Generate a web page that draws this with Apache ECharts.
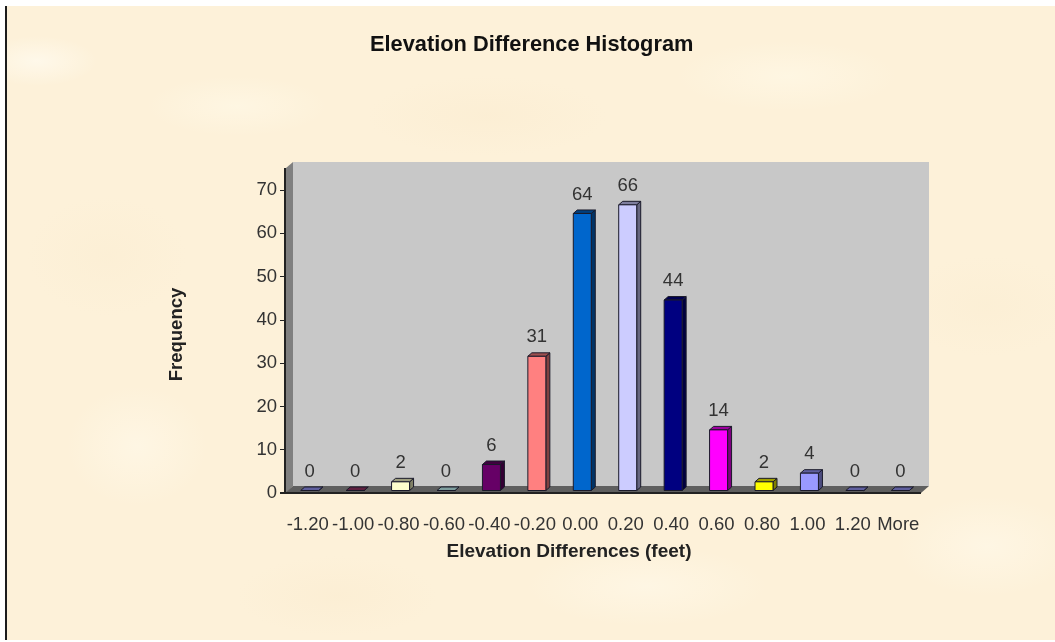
<!DOCTYPE html>
<html>
<head>
<meta charset="utf-8">
<script src="https://cdn.jsdelivr.net/npm/echarts@6/dist/echarts.min.js"></script>
<style>
html,body{margin:0;padding:0;background:#fff;width:1055px;height:642px;overflow:hidden}
#paper{position:absolute;left:5px;top:6px;width:1050px;height:634px;border-left:2px solid #1c1c1c;box-sizing:border-box;
background-color:#fdf1d9;
background-image:
radial-gradient(ellipse 60px 25px at 30px 55px,rgba(255,250,238,.8),transparent),
radial-gradient(ellipse 90px 30px at 230px 100px,rgba(255,248,230,.7),transparent),
radial-gradient(ellipse 120px 40px at 480px 110px,rgba(250,234,205,.4),transparent),
radial-gradient(ellipse 110px 35px at 780px 70px,rgba(255,248,230,.7),transparent),
radial-gradient(ellipse 80px 60px at 100px 250px,rgba(250,236,208,.4),transparent),
radial-gradient(ellipse 70px 60px at 130px 440px,rgba(255,248,232,.7),transparent),
radial-gradient(ellipse 100px 40px at 330px 590px,rgba(250,234,205,.4),transparent),
radial-gradient(ellipse 120px 40px at 640px 580px,rgba(255,248,232,.7),transparent),
radial-gradient(ellipse 90px 50px at 980px 300px,rgba(250,236,208,.4),transparent),
radial-gradient(ellipse 90px 50px at 980px 540px,rgba(255,248,232,.7),transparent);}
#chart{position:absolute;left:0;top:0;width:1055px;height:642px}
</style>
</head>
<body>
<div id="paper"></div>
<div id="chart"></div>
<script>
const categories = ['-1.20','-1.00','-0.80','-0.60','-0.40','-0.20','0.00','0.20','0.40','0.60','0.80','1.00','1.20','More'];
const frequencies = [0,0,2,0,6,31,64,66,44,14,2,4,0,0];
const barColors = ['#9999FF','#993366','#FFFFCC','#CCFFFF','#660066','#FF8080','#0066CC','#CCCCFF','#000080','#FF00FF','#FFFF00','#9999FF','#9999FF','#9999FF'];
const yTicks = {min:0,max:70,interval:10};
const title = 'Elevation Difference Histogram';
const xName = 'Elevation Differences (feet)';
const yName = 'Frequency';

const chart = echarts.init(document.getElementById('chart'),null,{renderer:'canvas'});
const lab = 'Liberation Sans';
const depthX = 8, depthY = 7, wallRise = 28;

function shade(hex,k){
  const n = parseInt(hex.slice(1),16);
  return 'rgb('+[(n>>16)&255,(n>>8)&255,n&255].map(c=>Math.round(c*k)).join(',')+')';
}
function renderWalls(params, api){
  const c = params.coordSys, l=c.x, r=c.x+c.width, b=c.y+c.height, t=c.y-wallRise+6;
  const poly=(pts,fill)=>({type:'polygon',shape:{points:pts},style:{fill:fill}});
  return {type:'group',children:[
    poly([[l+depthX,t-6],[r+depthX,t-6],[r+depthX,b-depthY],[l+depthX,b-depthY]],'#c8c8c8'),
    poly([[l+1,t],[l+depthX,t-6],[l+depthX,b-depthY],[l+1,b]],'#808080'),
    poly([[l,b],[l+depthX,b-depthY],[r+depthX,b-depthY],[r,b]],'#5f5f5f'),
    {type:'line',shape:{x1:l,y1:t,x2:l,y2:b},style:{stroke:'#222',lineWidth:2}},
    {type:'line',shape:{x1:l-5,y1:b,x2:r,y2:b},style:{stroke:'#222',lineWidth:2}}
  ]};
}
function renderBar(params, api){
  const idx = api.value(0), v = api.value(1);
  const base = api.coord([idx,0]), top = api.coord([idx,v]);
  const w = 18, dx=4, dy=3.5, sx=2, sy=-2.5;
  const x0 = base[0]+sx-w/2, x1=x0+w, y0=top[1]+sy, y1=base[1]+sy;
  const col = barColors[idx];
  const dark = '#1a1a2a';
  const s = {stroke:dark,lineWidth:1};
  const kids = [
    {type:'polygon',shape:{points:[[x1,y0],[x1+dx,y0-dy],[x1+dx,y1-dy],[x1,y1]]},style:Object.assign({fill:shade(col,0.5)},s)},
    {type:'polygon',shape:{points:[[x0,y0],[x0+dx,y0-dy],[x1+dx,y0-dy],[x1,y0]]},style:Object.assign({fill:shade(col,0.62)},s)}
  ];
  if(v>0) kids.push({type:'rect',shape:{x:x0,y:y0,width:w,height:y1-y0},style:Object.assign({fill:col},s)});
  kids.push({type:'text',x:base[0]+2,y:top[1]-21.5,style:{text:String(v),font:'18.5px "'+lab+'"',fill:'#333',align:'center',verticalAlign:'middle'}});
  return {type:'group',children:kids};
}
chart.setOption({
  animation:false,
  backgroundColor:'transparent',
  title:{text:title,left:365,top:29,textStyle:{fontFamily:lab,fontSize:21.8,fontWeight:'bold',color:'#111'}},
  grid:{left:285,top:190,width:636,height:303},
  xAxis:{type:'category',data:categories,name:xName,nameLocation:'center',nameGap:49,
    nameTextStyle:{fontFamily:lab,fontSize:19,fontWeight:'bold',color:'#222',padding:[0,68,0,0]},
    axisLine:{show:false},axisTick:{show:false},
    axisLabel:{interval:0,margin:22,fontFamily:lab,fontSize:18.5,color:'#333',hideOverlap:false},z:5},
  yAxis:{type:'value',min:yTicks.min,max:yTicks.max,interval:yTicks.interval,name:yName,nameLocation:'center',nameGap:99,
    nameTextStyle:{fontFamily:lab,fontSize:18.5,fontWeight:'bold',color:'#222',padding:[0,0,0,14]},
    axisLine:{show:false},axisTick:{show:true,length:5,lineStyle:{color:'#222'}},splitLine:{show:false},
    axisLabel:{margin:8,fontFamily:lab,fontSize:18.5,color:'#333'}},
  series:[
    {type:'custom',coordinateSystem:'cartesian2d',data:[[0,0]],renderItem:renderWalls,silent:true,z:1,clip:false},
    {type:'custom',coordinateSystem:'cartesian2d',data:frequencies.map((v,i)=>[i,v]),encode:{x:0,y:1},renderItem:renderBar,z:2,clip:false}
  ]
});
</script>
</body>
</html>
